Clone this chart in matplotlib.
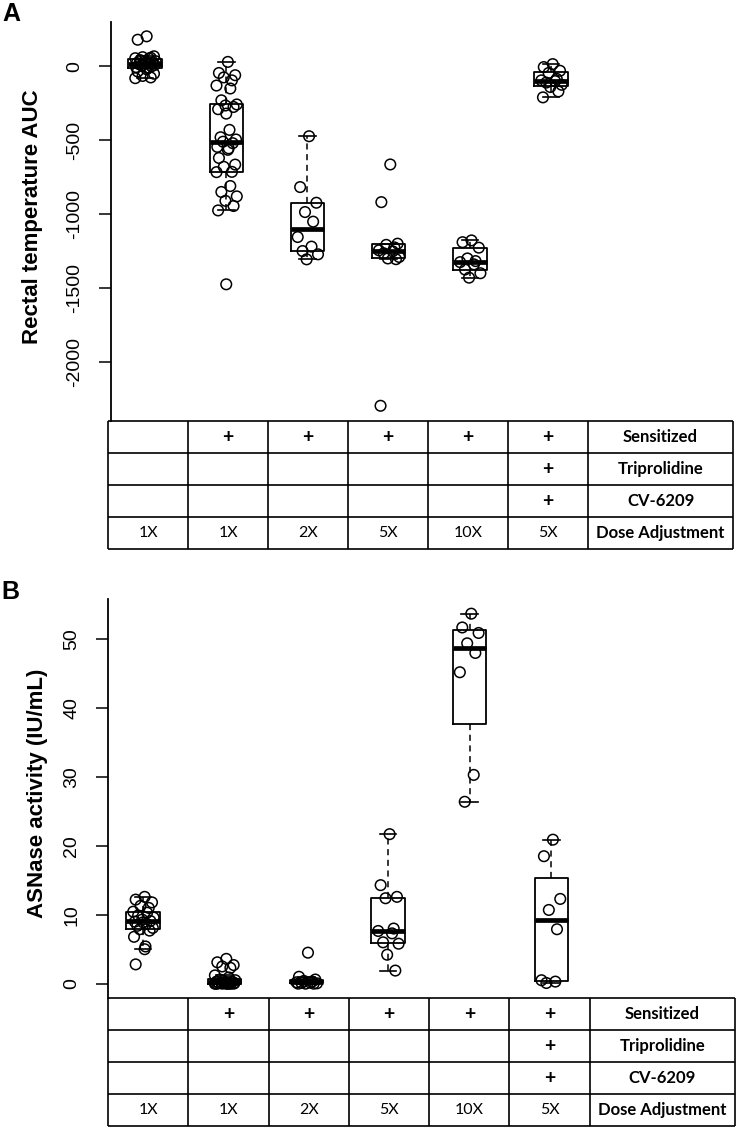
import matplotlib
matplotlib.use("Agg")
import matplotlib.pyplot as plt
import numpy as np

plt.rcParams["font.family"] = ["Liberation Sans", "DejaVu Sans"]

# panel A: rectal temperature AUC per group
temp_1x = [203, 180, 68, 62, 58, 55, 52, 42, 35, 30, 25, 22, 20, 18, 14, 10, 5, 0, -5, -8, -20, -35, -50, -65, -75, -80]
temp_sens_1x = [30, -45, -60, -75, -95, -130, -150, -230, -258, -265, -275, -290, -320, -430, -480, -495, -510,
                -520, -545, -555, -565, -620, -665, -680, -714, -716, -810, -850, -880, -910, -945, -975, -1475]
temp_sens_2x = [-473, -817, -923, -986, -1051, -1155, -1220, -1250, -1272, -1306]
temp_sens_5x = [-664, -919, -1200, -1208, -1225, -1245, -1252, -1265, -1290, -1300, -1305, -2297]
temp_sens_10x = [-1178, -1190, -1227, -1300, -1318, -1325, -1340, -1375, -1400, -1430]
temp_tri_cv_5x = [15, -5, -30, -45, -85, -95, -100, -110, -125, -140, -170, -210]
temp_groups = [temp_1x, temp_sens_1x, temp_sens_2x, temp_sens_5x, temp_sens_10x, temp_tri_cv_5x]

# panel B: ASNase activity (IU/mL) per group
asn_1x = [12.6, 12.2, 11.8, 11.3, 11.0, 10.45, 10.3, 9.9, 9.6, 9.3, 9.1, 9.0, 8.9, 8.7, 8.4, 8.1, 7.9, 7.7,
          6.8, 5.4, 5.0, 2.8]
asn_sens_1x = [3.6, 3.1, 2.7, 2.5, 2.3, 1.2, 0.9, 0.6, 0.5, 0.4, 0.3, 0.3, 0.2, 0.2, 0.1, 0.1, 0.1, 0.05,
               0.0, 0.0, 0.0, 0.0, 0.0, 0.0, 0.0, 0.0, 0.0]
asn_sens_2x = [4.5, 1.0, 0.6, 0.4, 0.3, 0.2, 0.15, 0.1, 0.05, 0.0, 0.0, 0.0]
asn_sens_5x = [21.7, 14.3, 12.6, 12.4, 8.0, 7.65, 7.3, 6.0, 5.8, 4.2, 1.9]
asn_sens_10x = [53.7, 51.7, 50.9, 49.4, 48.0, 45.2, 30.3, 26.4]
asn_tri_cv_5x = [20.9, 18.5, 12.3, 10.7, 7.9, 0.5, 0.3, 0.1]
asn_groups = [asn_1x, asn_sens_1x, asn_sens_2x, asn_sens_5x, asn_sens_10x, asn_tri_cv_5x]

# condition table
row_labels = ["Sensitized", "Triprolidine", "CV-6209", "Dose Adjustment"]
sensitized = ["", "+", "+", "+", "+", "+"]
triprolidine = ["", "", "", "", "", "+"]
cv6209 = ["", "", "", "", "", "+"]
dose = ["1X", "1X", "2X", "5X", "10X", "5X"]
table_rows = [sensitized, triprolidine, cv6209, dose]

JITTER = [0.02, -0.09, 0.11, -0.03, 0.07, -0.12, 0.05, -0.06, 0.13, -0.01, 0.09, -0.1, 0.0, 0.04,
          -0.07, 0.12, -0.04, 0.08, -0.11, 0.03]

W, H = 744, 1134
fig = plt.figure(figsize=(W / 100, H / 100), dpi=100)


def fa(l, t, r, b):
    return [l / W, 1 - b / H, (r - l) / W, (b - t) / H]


def fivenum(v):
    x = np.sort(np.asarray(v, dtype=float))
    n = len(x)
    n4 = np.floor((n + 3) / 2) / 2
    d = np.array([1, n4, (n + 1) / 2, n + 1 - n4, n]) - 1
    return 0.5 * (x[np.floor(d).astype(int)] + x[np.ceil(d).astype(int)])


def r_stats(v):
    lo, q1, med, q3, hi = fivenum(v)
    iqr = q3 - q1
    x = np.asarray(v, dtype=float)
    inside = x[(x >= q1 - 1.5 * iqr) & (x <= q3 + 1.5 * iqr)]
    return dict(med=med, q1=q1, q3=q3, whislo=inside.min(), whishi=inside.max(), fliers=[])


def panel(rect, xlim, ylim, groups, ticks, ylabel, ylab_pos, letter, letter_pos):
    ax = fig.add_axes(rect)
    stats = [r_stats(g) for g in groups]
    pos = np.arange(1, len(groups) + 1)
    ax.bxp(stats, positions=pos, widths=0.41, showfliers=False,
           boxprops=dict(lw=1.3, color="black"),
           medianprops=dict(lw=3.4, color="black", solid_capstyle="butt"),
           whiskerprops=dict(lw=1.1, color="black", linestyle=(0, (4, 3))),
           capprops=dict(lw=1.2, color="black"))
    for p, g in zip(pos, groups):
        jx = [p + JITTER[i % len(JITTER)] for i in range(len(g))]
        ax.scatter(jx, g, s=58, facecolors="none", edgecolors="black", linewidths=1.1, zorder=3)
    ax.set_xlim(*xlim)
    ax.set_ylim(*ylim)
    for s in ["top", "right", "bottom"]:
        ax.spines[s].set_visible(False)
    ax.spines["left"].set_linewidth(1.3)
    ax.set_xticks([])
    ax.set_yticks(ticks)
    ax.set_yticklabels([str(t) for t in ticks], rotation=90, va="center", fontsize=14)
    ax.tick_params(axis="y", length=9, width=1.1, pad=11)
    fig.text(ylab_pos[0] / W, 1 - ylab_pos[1] / H, ylabel, rotation=90, ha="center", va="center",
             fontsize=16, fontweight="bold")
    fig.text(letter_pos[0] / W, 1 - letter_pos[1] / H, letter, ha="center", va="center",
             fontsize=18, fontweight="bold")
    return ax


def table(rect):
    tx = fig.add_axes(rect)
    bounds = [0.5, 1.5, 2.5, 3.5, 4.5, 5.5, 6.5, 8.31]
    tx.set_xlim(bounds[0], bounds[-1])
    tx.set_ylim(4, 0)
    tx.axis("off")
    tx.vlines(bounds, 0, 4, color="black", lw=1.2, clip_on=False)
    tx.hlines(range(5), bounds[0], bounds[-1], color="black", lw=1.2, clip_on=False)
    for r, row in enumerate(table_rows):
        for c, val in enumerate(row):
            tx.text(c + 1, r + 0.5, val, ha="center", va="center", family=["Lato", "DejaVu Sans"],
                    fontsize=14 if val == "+" else 11.5, fontweight="bold" if val == "+" else "normal")
        tx.text((bounds[-2] + bounds[-1]) / 2, r + 0.5, row_labels[r], ha="center", va="center",
                family=["Lato", "DejaVu Sans"], fontsize=12, fontweight="bold")


panel(fa(111, 22, 733, 421), (0.581, 8.24), (-2400, 300), temp_groups,
      [0, -500, -1000, -1500, -2000], "Rectal temperature AUC", (33, 217), "A", (11, 14))
table(fa(108, 421, 733, 549))

panel(fa(108, 599, 735, 998), (0.571, 8.25), (-2.08, 55.83), asn_groups,
      [0, 10, 20, 30, 40, 50], "ASNase activity (IU/mL)", (38, 793), "B", (10, 592))
table(fa(108, 998, 735, 1126))

fig.savefig("out.png", dpi=100, facecolor="white")
